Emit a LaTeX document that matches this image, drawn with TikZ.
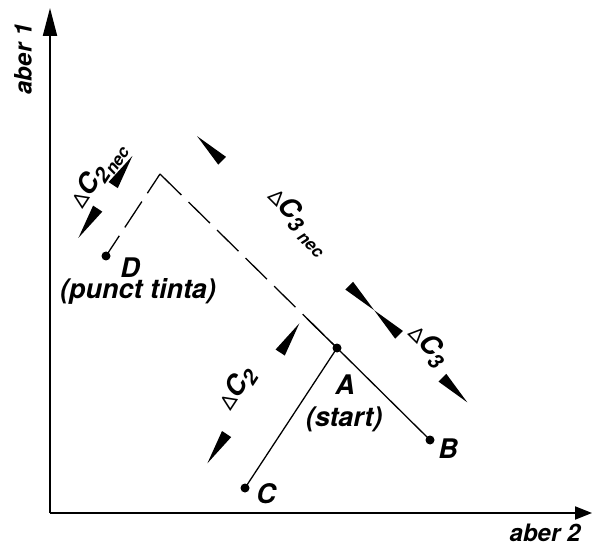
\documentclass[tikz,border=0pt]{standalone}
\usepackage{fontspec}
\setmainfont{TeX Gyre Heros}
\usetikzlibrary{calc,arrows.meta}
\newcommand{\dimwedge}[2]{\fill (#1) -- ($(#1)!35pt!(#2)!5.5pt!90:(#2)$) -- ($(#1)!35pt!(#2)!5.5pt!-90:(#2)$) -- cycle;}
\newcommand{\dlt}{{\mdseries\upshape\fontsize{20}{20}\selectfont Δ}}
\newcommand{\subt}[1]{\raisebox{-6pt}{\fontsize{21}{21}\selectfont #1}}
\newcommand{\subn}[1]{\raisebox{-8pt}{\fontsize{17}{17}\selectfont #1}}
\tikzset{
  lbl/.style={font=\fontsize{27}{27}\selectfont\bfseries\itshape, inner sep=0pt},
  axlbl/.style={font=\fontsize{24}{24}\selectfont\bfseries\itshape, inner sep=0pt},
  axisline/.style={line width=2pt},
  solidline/.style={line width=1.3pt},
  dashline/.style={line width=1.3pt, dash pattern=on 30pt off 10pt},
  dot/.style={circle, fill, inner sep=0pt, minimum size=9pt},
}
\begin{document}
\begin{tikzpicture}[x=1pt,y=1pt]
\useasboundingbox (0,0) rectangle (593,549);
% axes
\coordinate (O) at (50,36);
\coordinate (ytip) at (50,541);
\coordinate (xtip) at (592,36);
\draw[axisline,-{Triangle[length=28pt,width=14pt]}] (O) -- (ytip);
\draw[axisline,-{Triangle[length=17pt,width=13pt]}] (O) -- (xtip);
\node[axlbl, rotate=90] (yl) at (23,490) {aber 1};
\node[axlbl] (xl) at (545,16) {aber 2};
% points
\node[dot] (A) at (337,201) {};
\node[dot] (B) at (430,109) {};
\node[dot] (C) at (245,61) {};
\node[dot] (D) at (106,293) {};
\coordinate (P) at (160,375);
% connectors
\draw[solidline] (B.center) -- (A.center) -- ($(A.center)!42pt!(P)$);
\draw[solidline] (C.center) -- (A.center);
\draw[dashline] (P) -- (A.center);
\draw[line width=1.3pt, dash pattern=on 23pt off 10pt on 31pt off 10pt on 40pt off 0pt] (P) -- (D.center);
% labels
\node[lbl] (Dl) at (130,281) {D};
\node[lbl] (Dt) at (138,257.5) {(punct tinta)};
\node[lbl] (Al) at (345,164) {A};
\node[lbl] (At) at (344,130) {(start)};
\node[lbl] (Bl) at (448,100) {B};
\node[lbl] (Cl) at (266,55) {C};
% dimension marks
\coordinate (p3) at ($(P)!53pt!90:(A.center)$);
\coordinate (a3) at ($(A.center)!53pt!-90:(P)$);
\coordinate (b3) at ($(B.center)!53pt!-90:(A.center)$);
\coordinate (c2) at ($(C.center)!45pt!90:(A.center)$);
\coordinate (a2) at ($(A.center)!45pt!-90:(C.center)$);
\coordinate (d2) at ($(D.center)!33pt!90:(P)$);
\coordinate (p2) at ($(P)!33pt!-90:(D.center)$);
\dimwedge{p3}{a3}
\dimwedge{a3}{p3}
\dimwedge{a3}{b3}
\dimwedge{b3}{a3}
\dimwedge{c2}{a2}
\dimwedge{a2}{c2}
\dimwedge{d2}{p2}
\dimwedge{p2}{d2}
\node[lbl, rotate=-45] (l3n) at (299,328) {\dlt C\subt{3}\,\subn{nec}};
\node[lbl, rotate=-45] (l3) at (428,203) {\dlt C\subt{3}};
\node[lbl, rotate=56.7] (l2) at (237,160) {\dlt C\subt{2}};
\node[lbl, rotate=56.7] (l2n) at (98,374) {\dlt C\subt{2}\subn{nec}};
\end{tikzpicture}
\end{document}
